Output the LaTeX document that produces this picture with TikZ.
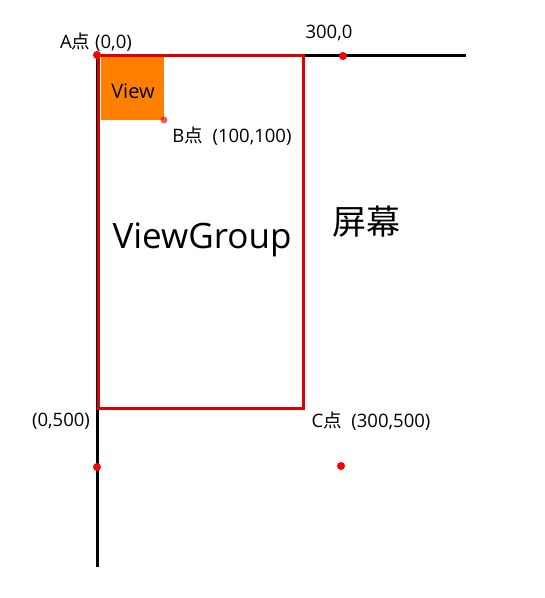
\documentclass[tikz,border=0pt]{standalone}
\usepackage{fontspec}
\setmainfont{Open Sans}
\newfontfamily\cjk{Noto Sans CJK SC}
\definecolor{fred}{HTML}{DD0000}
\definecolor{dotred}{HTML}{FF0000}
\definecolor{vorange}{HTML}{FF8000}
\begin{document}
\begin{tikzpicture}[x=1pt,y=-1pt,
  axis/.style={line width=3pt,black},
  frame/.style={line width=3pt,fred},
  reddot/.style={circle,fill=dotred,inner sep=0pt,minimum size=8pt},
  lbl/.style={font=\fontsize{18.5}{21}\selectfont,inner sep=0pt}]
\useasboundingbox (0,0) rectangle (545,598);
\coordinate (O) at (97,55);
\coordinate (xend) at (466,55);
\coordinate (yend) at (97,567);
\draw[axis] (O) -- (xend);
\draw[axis] (O) -- (yend);
\node[fill=vorange,minimum width=63pt,minimum height=63pt,inner sep=0pt,anchor=north west] (view) at (101,57) {};
\node[font=\fontsize{20}{22}\selectfont,inner sep=0pt] at (133,91) {View};
\draw[frame] (98,55) rectangle (303,408);
\node[reddot] (A) at (97,55) {};
\node[reddot] (X) at (343,56) {};
\node[circle,fill=dotred,fill opacity=0.65,inner sep=0pt,minimum size=7pt] (B) at (164,120) {};
\node[reddot] (Y) at (97,467) {};
\node[reddot] (C) at (341,466) {};
\node[lbl] (la) at (96,42) {A{\cjk 点} (0,0)};
\node[lbl] (lx) at (329,33) {300,0};
\node[lbl] (lb) at (232,136) {B{\cjk 点}\ \ (100,100)};
\node[font=\fontsize{35}{38}\selectfont,inner sep=0pt] (vg) at (202,240) {ViewGroup};
\node[font=\fontsize{34}{36}\cjk,inner sep=0pt] (sc) at (366,222) {屏幕};
\node[lbl] (ly) at (61,421) {(0,500)};
\node[lbl] (lc) at (371,421) {C{\cjk 点}\ \ (300,500)};
\end{tikzpicture}
\end{document}
